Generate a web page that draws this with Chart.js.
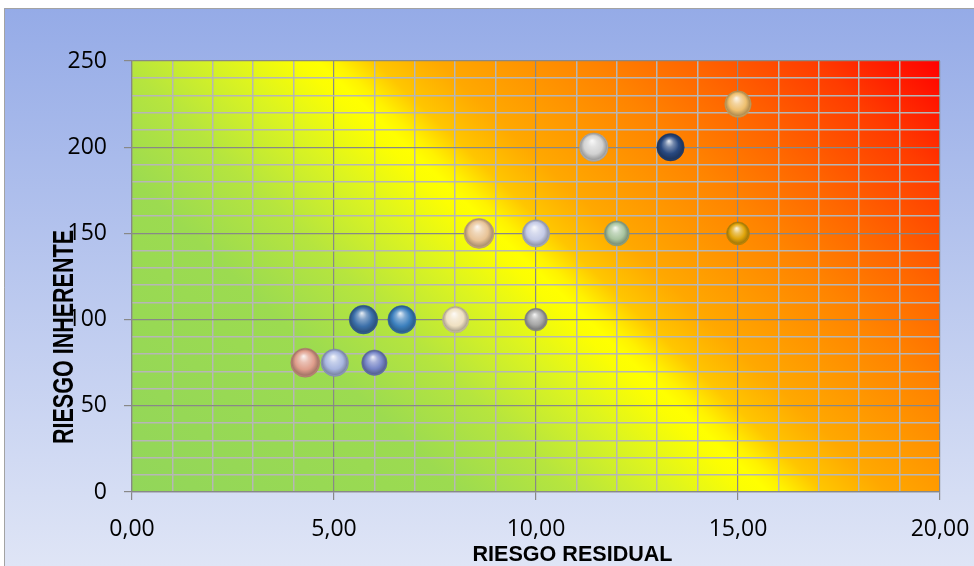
<!DOCTYPE html>
<html>
<head>
<meta charset="utf-8">
<title>Mapa de riesgos</title>
<script src="https://cdn.jsdelivr.net/npm/chart.js@4.4.1/dist/chart.umd.min.js"></script>
<style>
  html, body { margin: 0; padding: 0; background: #ffffff; }
  canvas { display: block; }
</style>
</head>
<body>
<canvas id="riskMap" width="974" height="566"></canvas>
<script>
// Risk points: residual risk (x), inherent risk (y), bubble size
const residualRisk = [4.29, 5.02, 6.0, 5.73, 6.68, 8.01, 10.0, 8.59, 10.0, 12.0, 15.0, 11.43, 13.33, 15.0];
const inherentRisk = [75, 75, 75, 100, 100, 100, 100, 150, 150, 150, 150, 200, 200, 225];
const bubbleSize   = [14.5, 13.7, 12.7, 14.3, 14, 13.2, 11.3, 15, 13.7, 12.5, 11.5, 14.3, 13.7, 13.3];

// Axis labels
const xTickLabels = ['0,00', '5,00', '10,00', '15,00', '20,00'];
const yTickLabels = ['0', '50', '100', '150', '200', '250'];
const xAxisTitle = 'RIESGO RESIDUAL';
const yAxisTitle = 'RIESGO INHERENTE';

// One colour per risk point
const bubblePalette = [
  '#df9e8c', '#a8b6e0', '#7786c8', '#3c70aa', '#3c80be', '#efe0c2', '#a6a6a6',
  '#e8c397', '#c4cae6', '#a8c4a0', '#e0a40a', '#d2d2d2', '#28487f', '#eebf6e'
];

function hexToRgb(h) {
  const n = parseInt(h.slice(1), 16);
  return [(n >> 16) & 255, (n >> 8) & 255, n & 255];
}
function mix(a, b, t) {
  const A = hexToRgb(a), B = hexToRgb(b);
  const c = A.map((v, i) => Math.round(v + (B[i] - v) * t));
  return `rgb(${c[0]},${c[1]},${c[2]})`;
}
function paletteAt(i) {
  return bubblePalette[((i || 0) % bubblePalette.length + bubblePalette.length) % bubblePalette.length];
}

// Glossy sphere shading for each bubble
function sphereFill(ctx) {
  const base = paletteAt(ctx.dataIndex);
  if (ctx.type !== 'data' || !ctx.raw) return base;
  const chart = ctx.chart;
  const xs = chart.scales && chart.scales.x, ys = chart.scales && chart.scales.y;
  if (!xs || !ys) return base;
  const p = ctx.raw;
  const cx = xs.getPixelForValue(p.x);
  const cy = ys.getPixelForValue(p.y);
  const r = p.r;
  if (![cx, cy, r].every(Number.isFinite)) return base;
  const g = chart.ctx.createRadialGradient(cx - r * 0.12, cy - r * 0.45, r * 0.02, cx, cy, r);
  g.addColorStop(0, mix(base, '#ffffff', 0.85));
  g.addColorStop(0.3, mix(base, '#ffffff', 0.35));
  g.addColorStop(0.64, base);
  g.addColorStop(0.9, mix(base, '#000000', 0.25));
  g.addColorStop(1, mix(base, '#000000', 0.12));
  return g;
}

const points = residualRisk.map((x, i) => ({ x, y: inherentRisk[i], r: bubbleSize[i] }));

// Outer panel and heat-map fill behind the grid
const backdrop = {
  id: 'backdrop',
  beforeDraw(chart) {
    const { ctx, chartArea: a, width, height } = chart;
    ctx.save();
    ctx.fillStyle = '#ffffff';
    ctx.fillRect(0, 0, width, height);
    const panel = ctx.createLinearGradient(0, 8, 0, height);
    panel.addColorStop(0, '#95abe7');
    panel.addColorStop(1, '#dfe5f6');
    ctx.fillStyle = panel;
    ctx.fillRect(4, 8, width - 4, height - 8);
    ctx.strokeStyle = '#a3a3a3';
    ctx.lineWidth = 1;
    ctx.beginPath();
    ctx.moveTo(4.5, height);
    ctx.lineTo(4.5, 8.5);
    ctx.lineTo(width, 8.5);
    ctx.stroke();

    // diagonal heat gradient: green (low) -> yellow -> orange -> red (high)
    const vx = a.width * (0.802 - 0.245), vy = a.height;
    const len = Math.hypot(vx, vy);
    const nx = vy / len, ny = -vx / len;
    const L = a.width * nx + (-a.height) * ny;
    const heat = ctx.createLinearGradient(a.left, a.bottom, a.left + nx * L, a.bottom + ny * L);
    heat.addColorStop(0.00, '#92d65a');
    heat.addColorStop(0.26, '#9cdb50');
    heat.addColorStop(0.35, '#b6e53e');
    heat.addColorStop(0.43, '#dcf420');
    heat.addColorStop(0.49, '#fcfe02');
    heat.addColorStop(0.505, '#ffff00');
    heat.addColorStop(0.52, '#fff200');
    heat.addColorStop(0.55, '#ffc600');
    heat.addColorStop(0.60, '#ffa800');
    heat.addColorStop(0.66, '#ff9600');
    heat.addColorStop(0.72, '#ff8400');
    heat.addColorStop(0.80, '#ff6600');
    heat.addColorStop(0.90, '#ff3c00');
    heat.addColorStop(1.00, '#ff0000');
    ctx.fillStyle = heat;
    ctx.fillRect(a.left, a.top, a.width, a.height);
    ctx.restore();
  }
};

// Axis titles, drawn fitted to a set length
function fittedText(ctx, text, font, x, y, length, angle) {
  ctx.save();
  ctx.font = font;
  const w = ctx.measureText(text).width;
  ctx.translate(x, y);
  ctx.rotate(angle);
  ctx.scale(length / w, 1);
  ctx.textAlign = 'center';
  ctx.textBaseline = 'alphabetic';
  ctx.fillStyle = '#000000';
  ctx.fillText(text, 0, 0);
  ctx.restore();
}
const axisTitles = {
  id: 'axisTitles',
  afterDraw(chart) {
    const { ctx, chartArea: a } = chart;
    fittedText(ctx, xAxisTitle, 'bold 22.5px "Liberation Sans", Arial, sans-serif',
      a.left + 440.5, a.bottom + 69, 200, 0);
    fittedText(ctx, yAxisTitle, 'bold 29px "Liberation Sans", Arial, sans-serif',
      a.left - 59, a.top + 276, 214, -Math.PI / 2);
  }
};

const tickFont = { family: "'Open Sans', sans-serif", size: 23 };
const isMajorX = c => c.tick && Math.round(c.tick.value) % 5 === 0;
const isMajorY = c => c.tick && Math.round(c.tick.value) % 50 === 0;

new Chart(document.getElementById('riskMap'), {
  type: 'bubble',
  data: {
    datasets: [{
      label: 'Riesgos',
      data: points,
      backgroundColor: sphereFill,
      borderColor: ctx => mix(paletteAt(ctx.dataIndex), '#000000', 0.3),
      borderWidth: 0.5,
      hoverRadius: 0
    }]
  },
  options: {
    responsive: false,
    devicePixelRatio: 1,
    animation: false,
    events: [],
    layout: { padding: { top: 61, right: 34, bottom: 0, left: 0 } },
    plugins: {
      legend: { display: false },
      tooltip: { enabled: false }
    },
    scales: {
      x: {
        type: 'linear',
        min: 0, max: 20,
        afterFit(s) { s.height = 74; s.paddingLeft = 0; s.paddingRight = 0; },
        ticks: {
          stepSize: 1,
          autoSkip: false,
          maxRotation: 0,
          padding: 16,
          color: '#000000',
          font: tickFont,
          callback: v => (Math.round(v) % 5 === 0 ? xTickLabels[Math.round(v) / 5] : '')
        },
        grid: {
          color: c => (isMajorX(c) ? '#888888' : '#b6b6b6'),
          tickColor: c => (isMajorX(c) ? '#888888' : 'rgba(0,0,0,0)'),
          lineWidth: c => (isMajorX(c) ? 1.2 : 1.5),
          tickLength: 8
        },
        border: { color: '#888888', width: 1.2 }
      },
      y: {
        type: 'linear',
        min: 0, max: 250,
        afterFit(s) { s.width = 132; s.paddingTop = 0; s.paddingBottom = 0; },
        ticks: {
          stepSize: 10,
          autoSkip: false,
          padding: 17,
          color: '#000000',
          font: tickFont,
          callback: v => (Math.round(v) % 50 === 0 ? yTickLabels[Math.round(v) / 50] : '')
        },
        grid: {
          color: c => (isMajorY(c) ? '#888888' : '#b6b6b6'),
          tickColor: c => (isMajorY(c) ? '#888888' : 'rgba(0,0,0,0)'),
          lineWidth: c => (isMajorY(c) ? 1.2 : 1.5),
          tickLength: 8
        },
        border: { color: '#888888', width: 1.2 }
      }
    }
  },
  plugins: [backdrop, axisTitles]
});
</script>
</body>
</html>
